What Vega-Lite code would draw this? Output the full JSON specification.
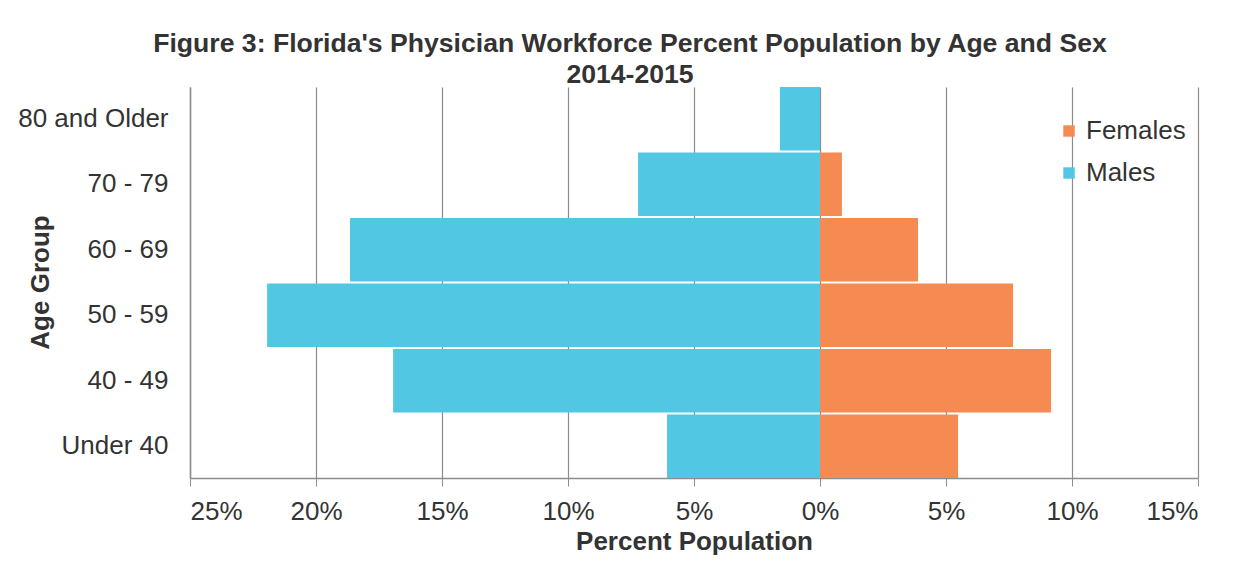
{
  "$schema": "https://vega.github.io/schema/vega-lite/v6.json",
  "autosize": "none",
  "width": 1008,
  "height": 391,
  "padding": {"left": 190, "top": 87, "right": 49, "bottom": 83},
  "background": "white",
  "config": {
    "font": "Liberation Sans",
    "view": {"stroke": null}
  },
  "title": {
    "text": ["Figure 3: Florida's Physician Workforce Percent Population by Age and Sex", "2014-2015"],
    "fontSize": 26.6,
    "fontWeight": "bold",
    "color": "#333333",
    "anchor": "middle",
    "dx": -64,
    "dy": 8,
    "lineHeight": 31,
    "offset": 6
  },
  "data": {
    "values": [
      {"age": "80 and Older", "sex": "Males", "pct": -1.59},
      {"age": "70 - 79", "sex": "Males", "pct": -7.22},
      {"age": "60 - 69", "sex": "Males", "pct": -18.65},
      {"age": "50 - 59", "sex": "Males", "pct": -21.94},
      {"age": "40 - 49", "sex": "Males", "pct": -16.94},
      {"age": "Under 40", "sex": "Males", "pct": -6.07},
      {"age": "80 and Older", "sex": "Females", "pct": 0},
      {"age": "70 - 79", "sex": "Females", "pct": 0.87},
      {"age": "60 - 69", "sex": "Females", "pct": 3.89},
      {"age": "50 - 59", "sex": "Females", "pct": 7.66},
      {"age": "40 - 49", "sex": "Females", "pct": 9.17},
      {"age": "Under 40", "sex": "Females", "pct": 5.48}
    ]
  },
  "mark": {"type": "bar"},
  "encoding": {
    "y": {
      "field": "age",
      "type": "nominal",
      "sort": ["80 and Older", "70 - 79", "60 - 69", "50 - 59", "40 - 49", "Under 40"],
      "scale": {"paddingInner": 0.03, "paddingOuter": 0},
      "axis": {
        "title": "Age Group",
        "titleFontSize": 26,
        "titleFontWeight": "bold",
        "titleColor": "#333333",
        "titleAngle": -90,
        "titleAlign": "center",
        "titleBaseline": "middle",
        "titleX": -150,
        "titleY": 195,
        "labelFontSize": 26,
        "labelColor": "#333333",
        "labelPadding": 22,
        "ticks": false,
        "domainColor": "#8c8c8c",
        "domainWidth": 1.5,
        "grid": false
      }
    },
    "x": {
      "field": "pct",
      "type": "quantitative",
      "scale": {"domain": [-25, 15], "nice": false, "zero": false},
      "axis": {
        "values": [-25, -20, -15, -10, -5, 0, 5, 10, 15],
        "labelExpr": "abs(datum.value) + '%'",
        "title": "Percent Population",
        "titleFontSize": 26,
        "titleFontWeight": "bold",
        "titleColor": "#333333",
        "titlePadding": 4,
        "labelFontSize": 26,
        "labelColor": "#333333",
        "labelPadding": 12,
        "tickSize": 8,
        "tickColor": "#8c8c8c",
        "domainColor": "#8c8c8c",
        "domainWidth": 1.5,
        "grid": true,
        "gridColor": "#8c8c8c",
        "gridWidth": 1.2
      }
    },
    "color": {
      "field": "sex",
      "type": "nominal",
      "scale": {"domain": ["Females", "Males"], "range": ["#F58A52", "#52C7E3"]},
      "legend": {
        "title": null,
        "orient": "none",
        "legendX": 866,
        "legendY": 31,
        "symbolType": "square",
        "symbolSize": 130,
        "symbolStrokeWidth": 0,
        "labelFontSize": 26,
        "labelColor": "#333333",
        "labelOffset": 4,
        "rowPadding": 16
      }
    }
  }
}
